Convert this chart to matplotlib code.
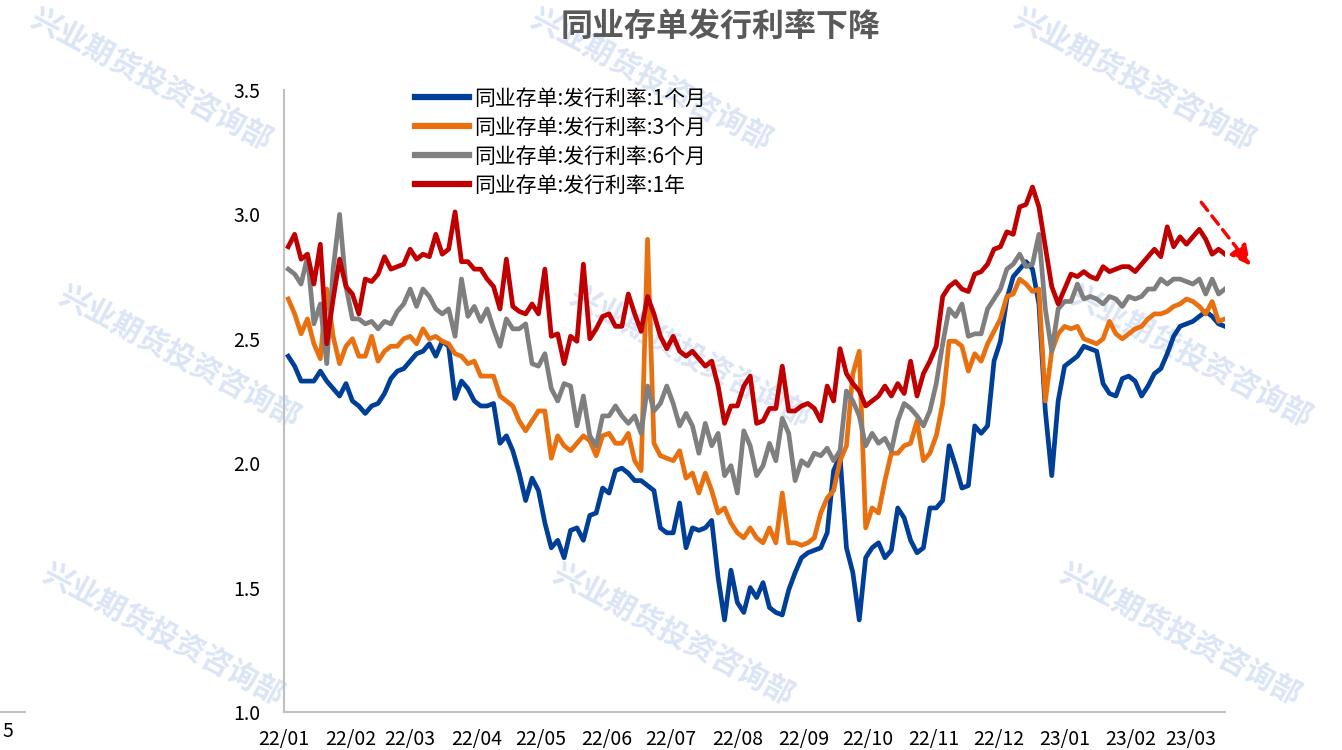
import numpy as np
import pandas as pd
import matplotlib
matplotlib.use("Agg")
import matplotlib.pyplot as plt
import matplotlib.dates as mdates
from matplotlib.lines import Line2D

plt.rcParams['font.family'] = ['Noto Sans CJK SC', 'DejaVu Sans']

# ---- data (one value every 3 days) ----
dates = pd.date_range('2022-01-03', periods=147, freq='3D')

rate_1m = [2.43, 2.39, 2.33, 2.33, 2.33, 2.37, 2.33, 2.30, 2.27, 2.32,
           2.25, 2.23, 2.20, 2.23, 2.24, 2.28, 2.34, 2.37, 2.38, 2.41,
           2.44, 2.45, 2.48, 2.43, 2.49, 2.47, 2.26, 2.33, 2.30, 2.25,
           2.23, 2.23, 2.24, 2.08, 2.11, 2.05, 1.96, 1.85, 1.94, 1.89,
           1.76, 1.66, 1.69, 1.62, 1.73, 1.74, 1.69, 1.79, 1.80, 1.90,
           1.88, 1.97, 1.98, 1.96, 1.93, 1.93, 1.91, 1.89, 1.74, 1.72,
           1.72, 1.84, 1.66, 1.74, 1.73, 1.74, 1.77, 1.54, 1.37, 1.57,
           1.44, 1.40, 1.50, 1.46, 1.52, 1.42, 1.40, 1.39, 1.49, 1.56,
           1.62, 1.64, 1.65, 1.66, 1.72, 1.97, 2.03, 1.66, 1.56, 1.37,
           1.62, 1.66, 1.68, 1.62, 1.65, 1.82, 1.78, 1.69, 1.64, 1.66,
           1.82, 1.82, 1.85, 2.07, 1.99, 1.90, 1.91, 2.15, 2.12, 2.15,
           2.41, 2.49, 2.66, 2.75, 2.78, 2.81, 2.78, 2.64, 2.21, 1.95,
           2.25, 2.39, 2.41, 2.43, 2.47, 2.46, 2.45, 2.32, 2.28, 2.27,
           2.34, 2.35, 2.33, 2.27, 2.31, 2.36, 2.38, 2.44, 2.51, 2.55,
           2.56, 2.57, 2.59, 2.61, 2.59, 2.56, 2.55]

rate_3m = [2.66, 2.60, 2.52, 2.58, 2.48, 2.42, 2.70, 2.51, 2.40, 2.47,
           2.50, 2.43, 2.43, 2.51, 2.41, 2.45, 2.47, 2.47, 2.50, 2.51,
           2.48, 2.54, 2.50, 2.51, 2.49, 2.48, 2.44, 2.43, 2.40, 2.41,
           2.35, 2.35, 2.35, 2.27, 2.25, 2.23, 2.17, 2.13, 2.17, 2.21,
           2.21, 2.02, 2.11, 2.07, 2.05, 2.08, 2.11, 2.09, 2.03, 2.11,
           2.12, 2.08, 2.08, 2.12, 2.01, 1.97, 2.90, 2.08, 2.03, 2.02,
           2.01, 2.05, 1.94, 1.96, 1.88, 1.96, 1.89, 1.80, 1.82, 1.76,
           1.72, 1.70, 1.74, 1.70, 1.68, 1.74, 1.68, 1.88, 1.68, 1.68,
           1.67, 1.68, 1.70, 1.80, 1.86, 1.89, 2.01, 2.07, 2.36, 2.45,
           1.74, 1.82, 1.80, 1.93, 2.04, 2.04, 2.07, 2.08, 2.17, 2.01,
           2.04, 2.11, 2.24, 2.49, 2.49, 2.47, 2.37, 2.44, 2.41, 2.48,
           2.53, 2.58, 2.67, 2.68, 2.74, 2.72, 2.69, 2.70, 2.25, 2.45,
           2.52, 2.55, 2.54, 2.55, 2.50, 2.49, 2.48, 2.50, 2.57, 2.52,
           2.50, 2.52, 2.54, 2.55, 2.58, 2.60, 2.60, 2.61, 2.63, 2.64,
           2.66, 2.65, 2.63, 2.60, 2.65, 2.57, 2.58]

rate_6m = [2.78, 2.76, 2.72, 2.83, 2.56, 2.64, 2.40, 2.78, 3.00, 2.71,
           2.58, 2.58, 2.56, 2.57, 2.54, 2.57, 2.56, 2.61, 2.64, 2.70,
           2.63, 2.70, 2.67, 2.62, 2.60, 2.62, 2.51, 2.74, 2.59, 2.63,
           2.57, 2.62, 2.54, 2.47, 2.58, 2.54, 2.54, 2.56, 2.40, 2.39,
           2.44, 2.30, 2.25, 2.32, 2.31, 2.15, 2.27, 2.11, 2.07, 2.19,
           2.19, 2.23, 2.19, 2.16, 2.19, 2.12, 2.31, 2.21, 2.24, 2.31,
           2.24, 2.15, 2.20, 2.15, 2.04, 2.16, 2.07, 2.12, 1.95, 1.99,
           1.88, 2.13, 2.07, 1.95, 1.99, 2.08, 2.01, 2.18, 2.12, 1.93,
           2.01, 1.99, 2.04, 2.03, 2.06, 2.01, 2.05, 2.29, 2.25, 2.19,
           2.07, 2.12, 2.08, 2.10, 2.05, 2.17, 2.24, 2.22, 2.19, 2.15,
           2.21, 2.32, 2.48, 2.62, 2.59, 2.64, 2.51, 2.52, 2.52, 2.62,
           2.66, 2.70, 2.78, 2.80, 2.84, 2.79, 2.80, 2.92, 2.62, 2.45,
           2.62, 2.65, 2.65, 2.72, 2.66, 2.67, 2.66, 2.64, 2.67, 2.66,
           2.63, 2.67, 2.66, 2.67, 2.70, 2.70, 2.74, 2.72, 2.74, 2.74,
           2.73, 2.72, 2.74, 2.68, 2.74, 2.68, 2.70]

rate_1y = [2.87, 2.92, 2.82, 2.84, 2.72, 2.88, 2.48, 2.66, 2.82, 2.71,
           2.68, 2.60, 2.74, 2.73, 2.76, 2.83, 2.78, 2.79, 2.80, 2.86,
           2.82, 2.84, 2.83, 2.92, 2.84, 2.86, 3.01, 2.81, 2.81, 2.78,
           2.78, 2.74, 2.71, 2.62, 2.82, 2.63, 2.61, 2.60, 2.64, 2.60,
           2.78, 2.51, 2.52, 2.40, 2.51, 2.49, 2.80, 2.50, 2.54, 2.59,
           2.60, 2.55, 2.55, 2.68, 2.60, 2.53, 2.67, 2.60, 2.51, 2.46,
           2.51, 2.45, 2.43, 2.45, 2.42, 2.39, 2.41, 2.31, 2.16, 2.23,
           2.23, 2.31, 2.35, 2.16, 2.17, 2.22, 2.22, 2.39, 2.21, 2.21,
           2.23, 2.24, 2.22, 2.17, 2.31, 2.25, 2.46, 2.36, 2.32, 2.29,
           2.23, 2.25, 2.27, 2.31, 2.27, 2.32, 2.28, 2.41, 2.27, 2.36,
           2.41, 2.47, 2.67, 2.71, 2.73, 2.70, 2.69, 2.76, 2.77, 2.80,
           2.86, 2.87, 2.93, 2.92, 3.03, 3.04, 3.11, 3.03, 2.87, 2.71,
           2.64, 2.70, 2.76, 2.75, 2.77, 2.75, 2.74, 2.79, 2.77, 2.78,
           2.79, 2.79, 2.77, 2.80, 2.83, 2.86, 2.83, 2.95, 2.87, 2.91,
           2.88, 2.91, 2.94, 2.90, 2.84, 2.86, 2.84]

series_names = ['同业存单:发行利率:1个月', '同业存单:发行利率:3个月',
                '同业存单:发行利率:6个月', '同业存单:发行利率:1年']
series_colors = ['#003f98', '#e8700f', '#7f7f7f', '#c00000']

y_ticks = [1.0, 1.5, 2.0, 2.5, 3.0, 3.5]
month_ticks = pd.date_range('2022-01-01', '2023-03-01', freq='MS')

title = '同业存单发行利率下降'
watermark = '兴业期货投资咨询部'
wm_x = [[0.112, 0.485, 0.845], [0.133, 0.514, 0.887], [0.121, 0.501, 0.879]]
wm_y = [0.893, 0.523, 0.153]

# ---- figure ----
fig = plt.figure(figsize=(13.42, 7.5), dpi=100)
ax = fig.add_axes([0.2116, 0.0507, 0.7012, 0.8293])
ax.set_facecolor('none')

for row, yy in enumerate(wm_y):
    for xx in wm_x[row]:
        fig.text(xx, yy, watermark, fontsize=21.5, fontweight='bold',
                 color='#dce5f5', rotation=-28, ha='center', va='center',
                 zorder=-5)

for vals, name, col in zip([rate_1m, rate_3m, rate_6m, rate_1y],
                           series_names, series_colors):
    ax.plot(dates, vals, color=col, lw=3.4, label=name,
            solid_joinstyle='round')

ax.set_ylim(1.0, 3.5)
ax.set_xlim(pd.Timestamp('2022-01-01'), pd.Timestamp('2023-03-17'))
ax.set_yticks(y_ticks)
ax.set_yticklabels([f'{v:.1f}' for v in y_ticks])
ax.set_xticks(month_ticks)
ax.xaxis.set_major_formatter(mdates.DateFormatter('%y/%m'))
ax.tick_params(axis='both', length=0, labelsize=14, colors='#000000')
ax.tick_params(axis='y', pad=17)
ax.tick_params(axis='x', pad=12)

for s in ['top', 'right']:
    ax.spines[s].set_visible(False)
for s in ['left', 'bottom']:
    ax.spines[s].set_color('#bfbfbf')
    ax.spines[s].set_linewidth(1.5)

leg = ax.legend(loc='upper left', bbox_to_anchor=(0.13, 1.017), frameon=False,
                fontsize=15, handlelength=2.6, handletextpad=0.25,
                labelspacing=0.33, borderaxespad=0)
for h in leg.legend_handles:
    h.set_linewidth(4.5)

fig.suptitle(title, x=0.537, y=0.985, fontsize=23, fontweight='bold',
             color='#595959')

# red dashed arrow
ax.annotate('', xy=(1.029, 0.714), xytext=(0.973, 0.823),
            xycoords='axes fraction',
            arrowprops=dict(arrowstyle='-|>', linestyle=(0, (3, 2)),
                            color='#ff0000', lw=2.5, mutation_scale=30),
            annotation_clip=False)

# leftover of a neighbouring chart on the left edge
fig.add_artist(Line2D([0, 0.019], [0.0507, 0.0507], color='#bfbfbf', lw=1.5))
fig.text(0.002, 0.017, '5', fontsize=14)

fig.savefig('out.png', dpi=100)
